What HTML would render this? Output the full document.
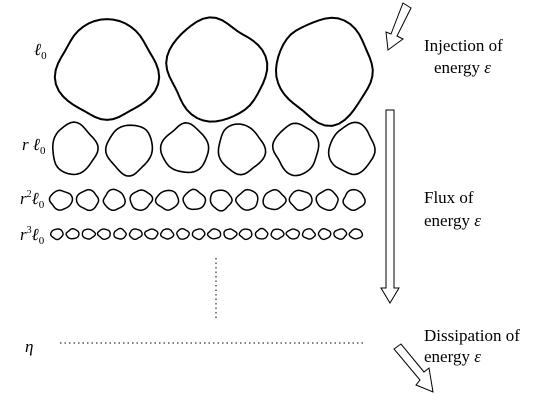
<!DOCTYPE html>
<html><head><meta charset="utf-8"><style>
html,body{margin:0;padding:0;background:#fff;}
svg{display:block;font-family:"Liberation Serif",serif;}
</style></head><body>
<svg id="s" width="547" height="402" viewBox="0 0 547 402">
<g font-size="17" fill="#000">
<text x="34" y="55" font-style="italic">ℓ<tspan font-size="11" dy="4" font-style="normal">0</tspan></text>
<text x="22" y="150" font-style="italic">r ℓ<tspan font-size="11" dy="4" font-style="normal">0</tspan></text>
<text x="20" y="204" font-style="italic">r<tspan font-size="10" dy="-7" font-style="normal">2</tspan><tspan dy="7">ℓ</tspan><tspan font-size="11" dy="4" font-style="normal">0</tspan></text>
<text x="20" y="240" font-style="italic">r<tspan font-size="10" dy="-7" font-style="normal">3</tspan><tspan dy="7">ℓ</tspan><tspan font-size="11" dy="4" font-style="normal">0</tspan></text>
<text x="25" y="352" font-style="italic">η</text>
<text x="424" y="51">Injection of</text>
<text x="434" y="73">energy <tspan font-style="italic">ε</tspan></text>
<text x="424" y="203">Flux of</text>
<text x="424" y="226">energy <tspan font-style="italic">ε</tspan></text>
<text x="424" y="341">Dissipation of</text>
<text x="424" y="362">energy <tspan font-style="italic">ε</tspan></text>
</g>
<g fill="none" stroke="#000" stroke-width="1">
<polygon points="403,3 411,8 397,36 403,39 388,50 386,32 391,34" />
<polygon points="386,110 394,110 394,288 399,288 390,303 381,288 386,288" />
<polygon points="394,349 401,344 424,372 429,368 433,392 416,385 420,380" />
<line x1="216" y1="258" x2="216" y2="318" stroke-dasharray="1.5,3"/>
<line x1="60" y1="343" x2="365" y2="343" stroke-dasharray="1.5,3"/>
</g>
<g id="blobs" fill="none" stroke="#000"></g>
</svg>
<script>
const rowCounts=[3,6,12,20];
const rowY=[70,149,200,234];
const rowRx=[47,22,10.5,6];
const rowRy=[49,24,9.5,4.8];
const rowX0=[107,74,61,57];
const rowX1=[325,352,354,356];
const rowSW=[2,1.6,1.5,1.4];
const g=document.getElementById('blobs');
function blob(cx,cy,rx,ry,seed){
  let d='';const n=48;
  for(let i=0;i<=n;i++){
    const a=i/n*Math.PI*2;
    const w=1+0.04*Math.sin(3*a+seed)+0.03*Math.sin(5*a+seed*1.7)+0.03*Math.cos(2*a+seed*2.3);
    const sq=1+0.06*Math.pow(Math.abs(Math.cos(2*a)),3);
    const x=cx+rx*w*sq*Math.cos(a), y=cy+ry*w*sq*Math.sin(a);
    d+=(i?'L':'M')+x.toFixed(1)+','+y.toFixed(1);
  }
  return d+'Z';
}
rowCounts.forEach((n,r)=>{
  for(let i=0;i<n;i++){
    const cx=n>1?rowX0[r]+(rowX1[r]-rowX0[r])*i/(n-1):rowX0[r];
    const p=document.createElementNS('http://www.w3.org/2000/svg','path');
    p.setAttribute('d',blob(cx,rowY[r],rowRx[r],rowRy[r],i*2.1+r*1.3));
    p.setAttribute('stroke-width',rowSW[r]);
    
    
    g.appendChild(p);
  }
});
</script>
</body></html>
